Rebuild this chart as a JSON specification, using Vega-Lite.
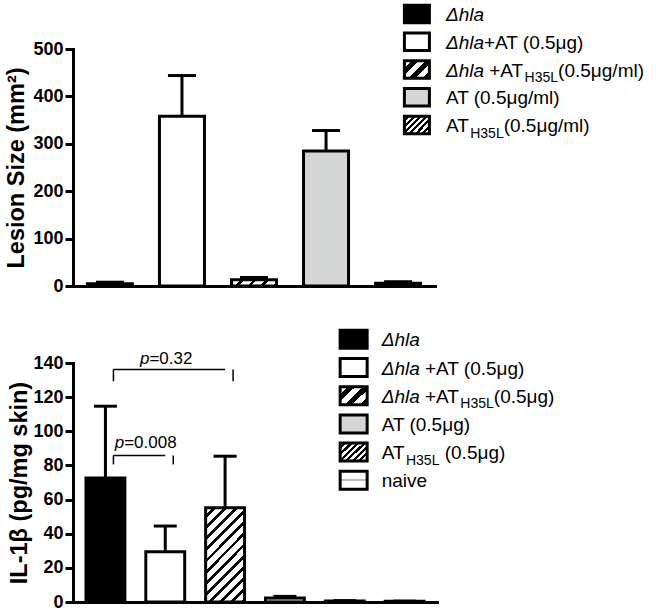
{
  "$schema": "https://vega.github.io/schema/vega-lite/v6.json",
  "background": "white",
  "padding": {"left": 4, "top": -1, "right": 0, "bottom": 0},
  "config": {
    "font": "Liberation Sans",
    "view": {"stroke": null},
    "axis": {"domainColor": "black", "domainWidth": 3, "domainCap": "square", "tickColor": "black", "tickWidth": 3, "tickSize": 8, "labelColor": "black", "labelFontWeight": "bold", "labelFontSize": 18, "labelPadding": 2, "labelOverlap": false, "titleColor": "black", "titleFontWeight": "bold", "titleFontSize": 23.5, "grid": false}
  },
  "datasets": {
    "lesion": [
      {"group": "Δhla", "mean": 5, "upper": 8},
      {"group": "Δhla+AT (0.5μg)", "mean": 358, "upper": 444},
      {"group": "Δhla +ATH35L(0.5μg/ml)", "mean": 13, "upper": 18},
      {"group": "AT (0.5μg/ml)", "mean": 285, "upper": 328},
      {"group": "ATH35L(0.5μg/ml)", "mean": 6, "upper": 9}
    ],
    "lesionLegend": [
      {"n": 1, "group": "Δhla", "it": "Δhla", "main": "", "sub": "", "tail": ""},
      {"n": 2, "group": "Δhla+AT (0.5μg)", "it": "Δhla", "main": "+AT (0.5μg)", "sub": "", "tail": ""},
      {"n": 3, "group": "Δhla +ATH35L(0.5μg/ml)", "it": "Δhla", "main": "\u200b\u00a0+AT", "sub": "H35L", "tail": "(0.5μg/ml)"},
      {"n": 4, "group": "AT (0.5μg/ml)", "it": "", "main": "AT (0.5μg/ml)", "sub": "", "tail": ""},
      {"n": 5, "group": "ATH35L(0.5μg/ml)", "it": "", "main": "AT", "sub": "H35L", "tail": "(0.5μg/ml)"}
    ],
    "il1b": [
      {"group": "Δhla", "mean": 72.7, "upper": 114.7},
      {"group": "Δhla +AT (0.5μg)", "mean": 29.4, "upper": 44.5},
      {"group": "Δhla +ATH35L(0.5μg)", "mean": 55.2, "upper": 85.4},
      {"group": "AT (0.5μg)", "mean": 2.3, "upper": 3.3},
      {"group": "ATH35L (0.5μg)", "mean": 0.6, "upper": 0.8},
      {"group": "naive", "mean": 0.4, "upper": 0.5}
    ],
    "il1bLegend": [
      {"n": 1, "group": "Δhla", "it": "Δhla", "main": "", "sub": "", "tail": ""},
      {"n": 2, "group": "Δhla +AT (0.5μg)", "it": "Δhla", "main": "\u200b\u00a0+AT (0.5μg)", "sub": "", "tail": ""},
      {"n": 3, "group": "Δhla +ATH35L(0.5μg)", "it": "Δhla", "main": "\u200b\u00a0+AT", "sub": "H35L", "tail": "(0.5μg)"},
      {"n": 4, "group": "AT (0.5μg)", "it": "", "main": "AT (0.5μg)", "sub": "", "tail": ""},
      {"n": 5, "group": "ATH35L (0.5μg)", "it": "", "main": "AT", "sub": "H35L", "tail": "\u200b\u00a0(0.5μg)"},
      {"n": 6, "group": "naive", "it": "", "main": "naive", "sub": "", "tail": ""}
    ],
    "pvals": [
      {"from": "Δhla", "to": "Δhla +ATH35L(0.5μg)", "top": 136.2, "leg": 129.3, "ty": 139.3, "rest": "=0.32"},
      {"from": "Δhla", "to": "Δhla +AT (0.5μg)", "top": 85.8, "leg": 80.6, "ty": 90.1, "rest": "=0.008"}
    ]
  },
  "vconcat": [
    {
      "width": 362,
      "height": 237,
      "resolve": {"scale": {"x": "independent", "y": "independent"}},
      "layer": [
        {
          "data": {"name": "lesion"},
          "layer": [
            {
              "mark": {"type": "bar", "stroke": "black", "strokeWidth": 3, "strokeJoin": "miter"},
              "encoding": {
                "x": {"field": "group", "type": "nominal", "sort": null, "scale": {"domain": ["Δhla", "Δhla+AT (0.5μg)", "Δhla +ATH35L(0.5μg/ml)", "AT (0.5μg/ml)", "ATH35L(0.5μg/ml)"], "paddingInner": 0.375, "paddingOuter": 0.2}, "axis": {"labels": false, "ticks": false, "title": null}},
                "y": {"field": "mean", "type": "quantitative", "scale": {"domain": [0, 500], "nice": false}, "axis": {"title": "Lesion Size (mm²)", "titlePadding": 4, "values": [0, 50, 100, 150, 200, 250, 300, 350, 400, 450, 500], "labelExpr": "datum.value % 100 === 0 ? datum.label : ''", "tickSize": {"condition": {"test": "datum.value % 100 === 0", "value": 8}, "value": 5}}},
                "fill": {"condition": [
                  {"test": "datum.group === 'Δhla'", "value": "#000000"},
                  {"test": "datum.group === 'Δhla +ATH35L(0.5μg/ml)'", "value": {"gradient": "linear", "x1": 0, "y1": 0, "x2": 1.117, "y2": 0.154, "stops": [
                    {"offset": 0, "color": "#ffffff"}, {"offset": 0.175, "color": "#ffffff"}, {"offset": 0.175, "color": "#000000"}, {"offset": 0.25, "color": "#000000"},
                    {"offset": 0.25, "color": "#ffffff"}, {"offset": 0.425, "color": "#ffffff"}, {"offset": 0.425, "color": "#000000"}, {"offset": 0.5, "color": "#000000"},
                    {"offset": 0.5, "color": "#ffffff"}, {"offset": 0.675, "color": "#ffffff"}, {"offset": 0.675, "color": "#000000"}, {"offset": 0.75, "color": "#000000"},
                    {"offset": 0.75, "color": "#ffffff"}, {"offset": 0.925, "color": "#ffffff"}, {"offset": 0.925, "color": "#000000"}, {"offset": 1, "color": "#000000"}]}},
                  {"test": "datum.group === 'AT (0.5μg/ml)'", "value": "#d4d6d6"},
                  {"test": "datum.group === 'ATH35L(0.5μg/ml)'", "value": {"gradient": "linear", "x1": 0, "y1": 0, "x2": 1, "y2": 0.1, "stops": [
                    {"offset": 0, "color": "#ffffff"}, {"offset": 0.0625, "color": "#ffffff"}, {"offset": 0.0625, "color": "#000000"}, {"offset": 0.125, "color": "#000000"},
                    {"offset": 0.125, "color": "#ffffff"}, {"offset": 0.1875, "color": "#ffffff"}, {"offset": 0.1875, "color": "#000000"}, {"offset": 0.25, "color": "#000000"},
                    {"offset": 0.25, "color": "#ffffff"}, {"offset": 0.3125, "color": "#ffffff"}, {"offset": 0.3125, "color": "#000000"}, {"offset": 0.375, "color": "#000000"},
                    {"offset": 0.375, "color": "#ffffff"}, {"offset": 0.4375, "color": "#ffffff"}, {"offset": 0.4375, "color": "#000000"}, {"offset": 0.5, "color": "#000000"},
                    {"offset": 0.5, "color": "#ffffff"}, {"offset": 0.5625, "color": "#ffffff"}, {"offset": 0.5625, "color": "#000000"}, {"offset": 0.625, "color": "#000000"},
                    {"offset": 0.625, "color": "#ffffff"}, {"offset": 0.6875, "color": "#ffffff"}, {"offset": 0.6875, "color": "#000000"}, {"offset": 0.75, "color": "#000000"},
                    {"offset": 0.75, "color": "#ffffff"}, {"offset": 0.8125, "color": "#ffffff"}, {"offset": 0.8125, "color": "#000000"}, {"offset": 0.875, "color": "#000000"},
                    {"offset": 0.875, "color": "#ffffff"}, {"offset": 0.9375, "color": "#ffffff"}, {"offset": 0.9375, "color": "#000000"}, {"offset": 1, "color": "#000000"}]}}
                ], "value": "#ffffff"}
              }
            },
            {
              "mark": {"type": "rule", "stroke": "black", "strokeWidth": 3},
              "encoding": {
                "x": {"field": "group", "type": "nominal"},
                "y": {"field": "mean", "type": "quantitative"},
                "y2": {"field": "upper"}
              }
            },
            {
              "mark": {"type": "tick", "color": "black", "thickness": 3, "size": 28, "opacity": 1},
              "encoding": {
                "x": {"field": "group", "type": "nominal"},
                "y": {"field": "upper", "type": "quantitative"}
              }
            }
          ]
        },
        {
          "data": {"name": "lesionLegend"},
          "encoding": {
            "x": {"datum": 0.95, "type": "quantitative", "scale": {"domain": [0, 1], "nice": false, "zero": false}, "axis": null},
            "y": {"field": "n", "type": "quantitative", "scale": {"domain": [2.261, 10.802], "nice": false, "zero": false, "reverse": true}, "axis": null}
          },
          "layer": [
            {
              "mark": {"type": "point", "shape": "M-1,-0.7L1,-0.7L1,0.7L-1,0.7Z", "size": 625, "filled": true, "opacity": 1, "stroke": "black", "strokeWidth": 3},
              "encoding": {
                "fill": {"condition": [
                  {"test": "datum.group === 'Δhla'", "value": "#000000"},
                  {"test": "datum.group === 'Δhla +ATH35L(0.5μg/ml)'", "value": {"gradient": "linear", "x1": 0, "y1": 0, "x2": 1.144, "y2": 0.792, "stops": [
                    {"offset": 0, "color": "#ffffff"}, {"offset": 0.1667, "color": "#ffffff"}, {"offset": 0.1667, "color": "#000000"}, {"offset": 0.3333, "color": "#000000"},
                    {"offset": 0.3333, "color": "#ffffff"}, {"offset": 0.5, "color": "#ffffff"}, {"offset": 0.5, "color": "#000000"}, {"offset": 0.6667, "color": "#000000"},
                    {"offset": 0.6667, "color": "#ffffff"}, {"offset": 0.8333, "color": "#ffffff"}, {"offset": 0.8333, "color": "#000000"}, {"offset": 1, "color": "#000000"}]}},
                  {"test": "datum.group === 'AT (0.5μg/ml)'", "value": "#d4d6d6"},
                  {"test": "datum.group === 'ATH35L(0.5μg/ml)'", "value": {"gradient": "linear", "x1": 0, "y1": 0, "x2": 1.144, "y2": 0.792, "stops": [
                    {"offset": 0, "color": "#ffffff"}, {"offset": 0.0714, "color": "#ffffff"}, {"offset": 0.0714, "color": "#000000"}, {"offset": 0.1429, "color": "#000000"},
                    {"offset": 0.1429, "color": "#ffffff"}, {"offset": 0.2143, "color": "#ffffff"}, {"offset": 0.2143, "color": "#000000"}, {"offset": 0.2857, "color": "#000000"},
                    {"offset": 0.2857, "color": "#ffffff"}, {"offset": 0.3571, "color": "#ffffff"}, {"offset": 0.3571, "color": "#000000"}, {"offset": 0.4286, "color": "#000000"},
                    {"offset": 0.4286, "color": "#ffffff"}, {"offset": 0.5, "color": "#ffffff"}, {"offset": 0.5, "color": "#000000"}, {"offset": 0.5714, "color": "#000000"},
                    {"offset": 0.5714, "color": "#ffffff"}, {"offset": 0.6429, "color": "#ffffff"}, {"offset": 0.6429, "color": "#000000"}, {"offset": 0.7143, "color": "#000000"},
                    {"offset": 0.7143, "color": "#ffffff"}, {"offset": 0.7857, "color": "#ffffff"}, {"offset": 0.7857, "color": "#000000"}, {"offset": 0.8571, "color": "#000000"},
                    {"offset": 0.8571, "color": "#ffffff"}, {"offset": 0.9286, "color": "#ffffff"}, {"offset": 0.9286, "color": "#000000"}, {"offset": 1, "color": "#000000"}]}}
                ], "value": "#ffffff"}
              }
            },
            {
              "mark": {"type": "text", "align": "left", "baseline": "alphabetic", "fontSize": 19, "fontStyle": "italic", "color": "black", "dx": 29, "dy": 7},
              "encoding": {"text": {"field": "it"}}
            },
            {
              "mark": {"type": "text", "align": "left", "baseline": "alphabetic", "fontSize": 19, "color": "black", "dx": {"expr": "datum.it ? 67 : 29"}, "dy": 7},
              "encoding": {"text": {"field": "main"}}
            },
            {
              "mark": {"type": "text", "align": "left", "baseline": "alphabetic", "fontSize": 14, "color": "black", "dx": {"expr": "datum.it ? 107.7 : 53.3"}, "dy": 12.5},
              "encoding": {"text": {"field": "sub"}}
            },
            {
              "mark": {"type": "text", "align": "left", "baseline": "alphabetic", "fontSize": 19, "color": "black", "dx": {"expr": "datum.it ? 141.2 : 86.8"}, "dy": 7},
              "encoding": {"text": {"field": "tail"}}
            }
          ]
        }
      ]
    },
    {
      "width": 364,
      "height": 239,
      "resolve": {"scale": {"x": "independent", "y": "independent"}},
      "layer": [
        {
          "layer": [
            {
              "data": {"name": "il1b"},
              "mark": {"type": "bar", "stroke": "black", "strokeWidth": 3, "strokeJoin": "miter"},
              "encoding": {
                "x": {"field": "group", "type": "nominal", "sort": null, "scale": {"domain": ["Δhla", "Δhla +AT (0.5μg)", "Δhla +ATH35L(0.5μg)", "AT (0.5μg)", "ATH35L (0.5μg)", "naive"], "paddingInner": 0.35, "paddingOuter": 0.217}, "axis": {"labels": false, "ticks": false, "title": null}},
                "y": {"field": "mean", "type": "quantitative", "scale": {"domain": [0, 140], "nice": false}, "axis": {"title": "IL-1β (pg/mg skin)", "titlePadding": 1, "values": [0, 20, 40, 60, 80, 100, 120, 140]}},
                "fill": {"condition": [
                  {"test": "datum.group === 'Δhla'", "value": "#000000"},
                  {"test": "datum.group === 'Δhla +ATH35L(0.5μg)'", "value": {"gradient": "linear", "x1": 0, "y1": 0, "x2": 0.501, "y2": 1.207, "stops": [
                    {"offset": 0, "color": "#ffffff"}, {"offset": 0.0542, "color": "#ffffff"}, {"offset": 0.0542, "color": "#000000"}, {"offset": 0.0833, "color": "#000000"},
                    {"offset": 0.0833, "color": "#ffffff"}, {"offset": 0.1375, "color": "#ffffff"}, {"offset": 0.1375, "color": "#000000"}, {"offset": 0.1667, "color": "#000000"},
                    {"offset": 0.1667, "color": "#ffffff"}, {"offset": 0.2208, "color": "#ffffff"}, {"offset": 0.2208, "color": "#000000"}, {"offset": 0.25, "color": "#000000"},
                    {"offset": 0.25, "color": "#ffffff"}, {"offset": 0.3042, "color": "#ffffff"}, {"offset": 0.3042, "color": "#000000"}, {"offset": 0.3333, "color": "#000000"},
                    {"offset": 0.3333, "color": "#ffffff"}, {"offset": 0.3875, "color": "#ffffff"}, {"offset": 0.3875, "color": "#000000"}, {"offset": 0.4167, "color": "#000000"},
                    {"offset": 0.4167, "color": "#ffffff"}, {"offset": 0.4708, "color": "#ffffff"}, {"offset": 0.4708, "color": "#000000"}, {"offset": 0.5, "color": "#000000"},
                    {"offset": 0.5, "color": "#ffffff"}, {"offset": 0.5542, "color": "#ffffff"}, {"offset": 0.5542, "color": "#000000"}, {"offset": 0.5833, "color": "#000000"},
                    {"offset": 0.5833, "color": "#ffffff"}, {"offset": 0.6375, "color": "#ffffff"}, {"offset": 0.6375, "color": "#000000"}, {"offset": 0.6667, "color": "#000000"},
                    {"offset": 0.6667, "color": "#ffffff"}, {"offset": 0.7208, "color": "#ffffff"}, {"offset": 0.7208, "color": "#000000"}, {"offset": 0.75, "color": "#000000"},
                    {"offset": 0.75, "color": "#ffffff"}, {"offset": 0.8042, "color": "#ffffff"}, {"offset": 0.8042, "color": "#000000"}, {"offset": 0.8333, "color": "#000000"},
                    {"offset": 0.8333, "color": "#ffffff"}, {"offset": 0.8875, "color": "#ffffff"}, {"offset": 0.8875, "color": "#000000"}, {"offset": 0.9167, "color": "#000000"},
                    {"offset": 0.9167, "color": "#ffffff"}, {"offset": 0.9708, "color": "#ffffff"}, {"offset": 0.9708, "color": "#000000"}, {"offset": 1, "color": "#000000"}]}},
                  {"test": "datum.group === 'AT (0.5μg)'", "value": "#d4d6d6"},
                  {"test": "datum.group === 'ATH35L (0.5μg)'", "value": "#333333"},
                  {"test": "datum.group === 'naive'", "value": "#ffffff"}
                ], "value": "#ffffff"}
              }
            },
            {
              "data": {"name": "il1b"},
              "mark": {"type": "rule", "stroke": "black", "strokeWidth": 3},
              "encoding": {
                "x": {"field": "group", "type": "nominal"},
                "y": {"field": "mean", "type": "quantitative", "axis": {"title": "IL-1β (pg/mg skin)", "titlePadding": 1, "values": [0, 20, 40, 60, 80, 100, 120, 140]}},
                "y2": {"field": "upper"}
              }
            },
            {
              "data": {"name": "il1b"},
              "mark": {"type": "tick", "color": "black", "thickness": 3, "size": 23, "opacity": 1},
              "encoding": {
                "x": {"field": "group", "type": "nominal"},
                "y": {"field": "upper", "type": "quantitative", "axis": {"title": "IL-1β (pg/mg skin)", "titlePadding": 1, "values": [0, 20, 40, 60, 80, 100, 120, 140]}}
              }
            },
            {
              "data": {"name": "pvals"},
              "mark": {"type": "rule", "stroke": "black", "strokeWidth": 1.5, "xOffset": 8},
              "encoding": {
                "x": {"field": "from", "type": "nominal"},
                "x2": {"field": "to"},
                "y": {"field": "top", "type": "quantitative", "axis": {"title": "IL-1β (pg/mg skin)", "titlePadding": 1, "values": [0, 20, 40, 60, 80, 100, 120, 140]}}
              }
            },
            {
              "data": {"name": "pvals"},
              "mark": {"type": "rule", "stroke": "black", "strokeWidth": 1.5, "xOffset": 8},
              "encoding": {
                "x": {"field": "from", "type": "nominal"},
                "y": {"field": "leg", "type": "quantitative", "axis": {"title": "IL-1β (pg/mg skin)", "titlePadding": 1, "values": [0, 20, 40, 60, 80, 100, 120, 140]}},
                "y2": {"field": "top"}
              }
            },
            {
              "data": {"name": "pvals"},
              "mark": {"type": "rule", "stroke": "black", "strokeWidth": 1.5, "xOffset": 8},
              "encoding": {
                "x": {"field": "to", "type": "nominal"},
                "y": {"field": "leg", "type": "quantitative", "axis": {"title": "IL-1β (pg/mg skin)", "titlePadding": 1, "values": [0, 20, 40, 60, 80, 100, 120, 140]}},
                "y2": {"field": "top"}
              }
            },
            {
              "data": {"name": "pvals"},
              "mark": {"type": "text", "text": "p", "align": "right", "baseline": "alphabetic", "fontSize": 17, "fontStyle": "italic", "color": "black", "dx": {"expr": "datum.rest === '=0.32' ? 44 : 18.7"}},
              "encoding": {
                "x": {"field": "from", "type": "nominal"},
                "y": {"field": "ty", "type": "quantitative", "axis": {"title": "IL-1β (pg/mg skin)", "titlePadding": 1, "values": [0, 20, 40, 60, 80, 100, 120, 140]}}
              }
            },
            {
              "data": {"name": "pvals"},
              "mark": {"type": "text", "align": "left", "baseline": "alphabetic", "fontSize": 17, "color": "black", "dx": {"expr": "datum.rest === '=0.32' ? 44 : 18.7"}},
              "encoding": {
                "x": {"field": "from", "type": "nominal"},
                "y": {"field": "ty", "type": "quantitative", "axis": {"title": "IL-1β (pg/mg skin)", "titlePadding": 1, "values": [0, 20, 40, 60, 80, 100, 120, 140]}},
                "text": {"field": "rest"}
              }
            }
          ]
        },
        {
          "data": {"name": "il1bLegend"},
          "encoding": {
            "x": {"datum": 0.771, "type": "quantitative", "scale": {"domain": [0, 1], "nice": false, "zero": false}, "axis": null},
            "y": {"field": "n", "type": "quantitative", "scale": {"domain": [1.84, 10.315], "nice": false, "zero": false, "reverse": true}, "axis": null}
          },
          "layer": [
            {
              "mark": {"type": "point", "shape": "M-1,-0.667L1,-0.667L1,0.667L-1,0.667Z", "size": 729, "filled": true, "opacity": 1, "stroke": "black", "strokeWidth": 3},
              "encoding": {
                "fill": {"condition": [
                  {"test": "datum.group === 'Δhla'", "value": "#000000"},
                  {"test": "datum.group === 'Δhla +ATH35L(0.5μg)'", "value": {"gradient": "linear", "x1": 0, "y1": 0, "x2": 1.144, "y2": 0.792, "stops": [
                    {"offset": 0, "color": "#ffffff"}, {"offset": 0.1667, "color": "#ffffff"}, {"offset": 0.1667, "color": "#000000"}, {"offset": 0.3333, "color": "#000000"},
                    {"offset": 0.3333, "color": "#ffffff"}, {"offset": 0.5, "color": "#ffffff"}, {"offset": 0.5, "color": "#000000"}, {"offset": 0.6667, "color": "#000000"},
                    {"offset": 0.6667, "color": "#ffffff"}, {"offset": 0.8333, "color": "#ffffff"}, {"offset": 0.8333, "color": "#000000"}, {"offset": 1, "color": "#000000"}]}},
                  {"test": "datum.group === 'AT (0.5μg)'", "value": "#d4d6d6"},
                  {"test": "datum.group === 'ATH35L (0.5μg)'", "value": {"gradient": "linear", "x1": 0, "y1": 0, "x2": 1.144, "y2": 0.792, "stops": [
                    {"offset": 0, "color": "#ffffff"}, {"offset": 0.0714, "color": "#ffffff"}, {"offset": 0.0714, "color": "#000000"}, {"offset": 0.1429, "color": "#000000"},
                    {"offset": 0.1429, "color": "#ffffff"}, {"offset": 0.2143, "color": "#ffffff"}, {"offset": 0.2143, "color": "#000000"}, {"offset": 0.2857, "color": "#000000"},
                    {"offset": 0.2857, "color": "#ffffff"}, {"offset": 0.3571, "color": "#ffffff"}, {"offset": 0.3571, "color": "#000000"}, {"offset": 0.4286, "color": "#000000"},
                    {"offset": 0.4286, "color": "#ffffff"}, {"offset": 0.5, "color": "#ffffff"}, {"offset": 0.5, "color": "#000000"}, {"offset": 0.5714, "color": "#000000"},
                    {"offset": 0.5714, "color": "#ffffff"}, {"offset": 0.6429, "color": "#ffffff"}, {"offset": 0.6429, "color": "#000000"}, {"offset": 0.7143, "color": "#000000"},
                    {"offset": 0.7143, "color": "#ffffff"}, {"offset": 0.7857, "color": "#ffffff"}, {"offset": 0.7857, "color": "#000000"}, {"offset": 0.8571, "color": "#000000"},
                    {"offset": 0.8571, "color": "#ffffff"}, {"offset": 0.9286, "color": "#ffffff"}, {"offset": 0.9286, "color": "#000000"}, {"offset": 1, "color": "#000000"}]}},
                  {"test": "datum.group === 'naive'", "value": {"gradient": "linear", "x1": 0, "y1": 0, "x2": 0, "y2": 1, "stops": [
                    {"offset": 0, "color": "#ffffff"}, {"offset": 0.44, "color": "#ffffff"}, {"offset": 0.44, "color": "#bbbbbb"}, {"offset": 0.54, "color": "#bbbbbb"}, {"offset": 0.54, "color": "#ffffff"}, {"offset": 1, "color": "#ffffff"}]}}
                ], "value": "#ffffff"}
              }
            },
            {
              "mark": {"type": "text", "align": "left", "baseline": "alphabetic", "fontSize": 19, "fontStyle": "italic", "color": "black", "dx": 28, "dy": 7},
              "encoding": {"text": {"field": "it"}}
            },
            {
              "mark": {"type": "text", "align": "left", "baseline": "alphabetic", "fontSize": 19, "color": "black", "dx": {"expr": "datum.it ? 66 : 28"}, "dy": 7},
              "encoding": {"text": {"field": "main"}}
            },
            {
              "mark": {"type": "text", "align": "left", "baseline": "alphabetic", "fontSize": 14, "color": "black", "dx": {"expr": "datum.it ? 106.7 : 52.3"}, "dy": 12.5},
              "encoding": {"text": {"field": "sub"}}
            },
            {
              "mark": {"type": "text", "align": "left", "baseline": "alphabetic", "fontSize": 19, "color": "black", "dx": {"expr": "datum.it ? 140.2 : 85.8"}, "dy": 7},
              "encoding": {"text": {"field": "tail"}}
            }
          ]
        }
      ]
    }
  ],
  "spacing": 29
}
